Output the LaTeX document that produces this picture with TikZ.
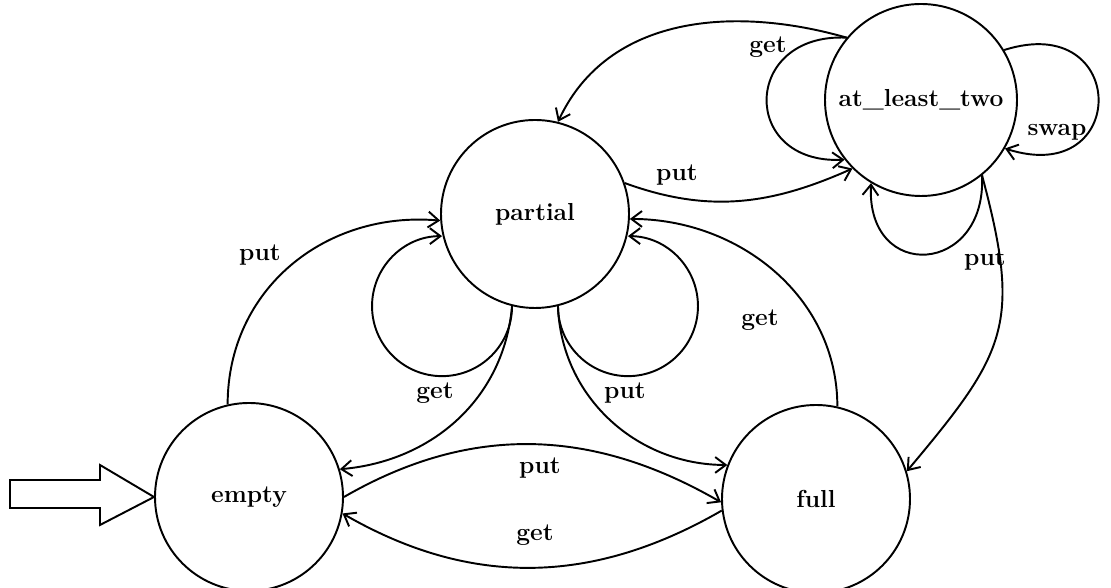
\documentclass[tikz,border=0pt]{standalone}
\usepackage{fontspec}
\usetikzlibrary{arrows.meta}

\tikzset{
  state/.style={circle,draw,line width=1.1pt,minimum size=3.76cm,inner sep=0pt,
                font=\fontsize{14}{16}\selectfont\bfseries},
  lbl/.style={font=\fontsize{14}{16}\selectfont\bfseries,inner sep=1pt},
  trans/.style={line width=1.1pt,-{Straight Barb[length=6pt,width=9pt]}}
}

\begin{document}
\begin{tikzpicture}
  \useasboundingbox (0,0) rectangle (22.22,11.76);

  % States
  \node[state]                        (empty)   at (4.98,1.82)  {empty};
  \node[state]                        (partial) at (10.70,7.48) {partial};
  \node[state]                        (full)    at (16.32,1.78) {full};
  \node[state,minimum size=3.84cm]    (alt)     at (18.42,9.76) {at\_least\_two};

  % Initial state arrow
  \draw[line width=1.1pt] (0.2,1.6) -- (2.0,1.6) -- (2.0,1.26) -- (empty.west)
        -- (2.0,2.46) -- (2.0,2.16) -- (0.2,2.16) -- cycle;

  % Transitions around partial
  \draw[trans] (empty.103) to[out=90,in=175,looseness=1.05] (partial.184);
  \draw[trans] (partial.256) arc[start angle=0,end angle=-270,radius=1.4];
  \draw[trans] (partial.284) arc[start angle=180,end angle=450,radius=1.4];
  \draw[trans] (partial.256) to[out=265,in=5] (empty.17);
  \draw[trans] (partial.284) to[out=272,in=180] (full.159);
  \draw[trans] (full.77) to[out=90,in=0] (partial.357);

  % Transitions between empty and full
  \draw[trans] (empty.0) to[out=30,in=150] (full.182);
  \draw[trans] (full.187) to[out=210,in=330] (empty.350);

  % Transitions around at_least_two
  \draw[trans] (partial.19) to[out=-20,in=204] (alt.225);
  \draw[trans] (alt.140) to[out=164,in=65] (partial.76);
  \draw[trans] (alt.140) .. controls +(-2.1,0.1) and +(-2.1,-0.1) .. (alt.218);
  \draw[trans] (alt.31) .. controls +(2.5,0.8) and +(2.5,-0.8) .. (alt.330);
  \draw[trans] (alt.309) .. controls +(0.1,-2) and +(-0.1,-2) .. (alt.239);
  \draw[trans] (alt.309) to[out=285,in=50,looseness=1.3] (full.17);

  % Labels
  \node[lbl] (lputEP) at (5.2,6.66)   {put};
  \node[lbl] (lgetPL) at (8.7,3.9)    {get};
  \node[lbl] (lputPR) at (12.5,3.9)   {put};
  \node[lbl] (lputEF) at (10.8,2.4)   {put};
  \node[lbl] (lgetFE) at (10.7,1.06)  {get};
  \node[lbl] (lgetFP) at (15.2,5.36)  {get};
  \node[lbl] (lputPA) at (13.54,8.26) {put};
  \node[lbl] (lgetA)  at (15.36,10.82) {get};
  \node[lbl] (lswap)  at (21.14,9.12) {swap};
  \node[lbl] (lputA)  at (19.7,6.56)  {put};
\end{tikzpicture}
\end{document}
